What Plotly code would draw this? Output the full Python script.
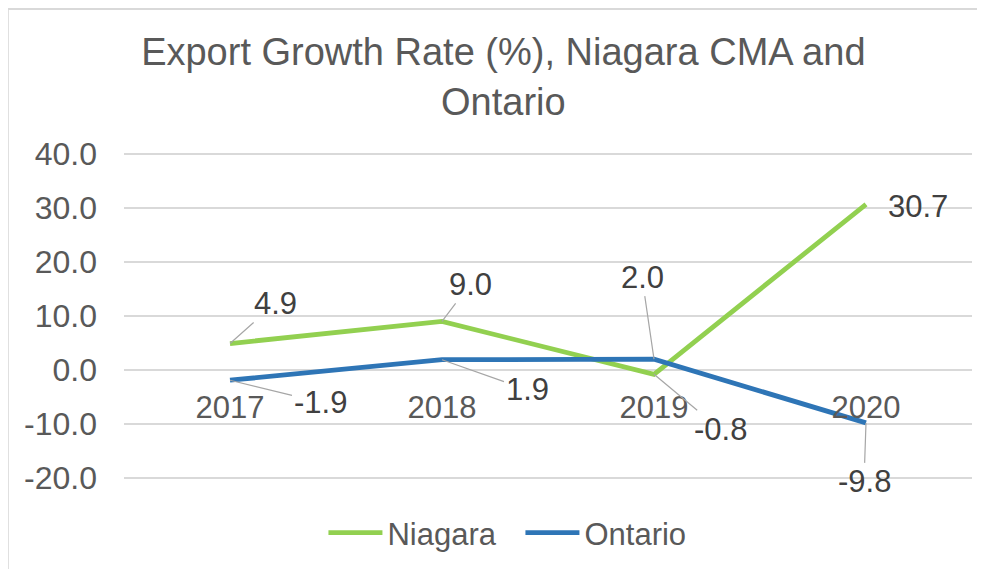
import plotly.graph_objects as go

years = ["2017", "2018", "2019", "2020"]
niagara = [4.9, 9.0, -0.8, 30.7]
ontario = [-1.9, 1.9, 2.0, -9.8]
y_ticks = [-20, -10, 0, 10, 20, 30, 40]

# label offsets (pixels) for data labels with leader lines
niagara_off = [(45, -40), (28, -37), (66, 55), (52, 2)]
niagara_leader = [True, True, True, False]
ontario_off = [(90, 22), (85, 30), (-12, -82), (-2, 59)]
ontario_leader = [True, True, True, True]

GREEN = "#92d050"
BLUE = "#2e75b6"
TXT = "#595959"
LBL = "#404040"
GRID = "#d9d9d9"
FONT = "Liberation Sans, Arial, sans-serif"

fig = go.Figure()
fig.add_trace(go.Scatter(x=years, y=niagara, name="Niagara", mode="lines",
                         line=dict(color=GREEN, width=4.8)))
fig.add_trace(go.Scatter(x=years, y=ontario, name="Ontario", mode="lines",
                         line=dict(color=BLUE, width=4.8)))

for vals, offs, leads in [(niagara, niagara_off, niagara_leader),
                          (ontario, ontario_off, ontario_leader)]:
    for i, (v, (dx, dy), lead) in enumerate(zip(vals, offs, leads)):
        fig.add_annotation(
            x=i, y=v, xref="x", yref="y", text=f"{v:.1f}", showarrow=True,
            arrowhead=0, arrowwidth=1.2,
            arrowcolor="#a6a6a6" if lead else "rgba(255,255,255,0)",
            ax=dx, ay=dy, standoff=0,
            font=dict(family=FONT, size=31, color=LBL))

YMIN, YMAX = -20.2, 40.2
fig.update_layout(
    width=977, height=561,
    margin=dict(l=116, r=13, t=145, b=90, autoexpand=False),
    paper_bgcolor="white", plot_bgcolor="white",
    title=dict(text="Export Growth Rate (%), Niagara CMA and<br>Ontario",
               x=0.507, xanchor="center", y=0.898, yanchor="middle",
               font=dict(family=FONT, size=38, color=TXT)),
    xaxis=dict(type="category", range=[-0.5, 3.5], showgrid=False,
               showline=False, zeroline=False, anchor="free",
               position=(0 - YMIN) / (YMAX - YMIN),
               ticks="", ticklabelstandoff=16,
               tickfont=dict(family=FONT, size=31, color=TXT)),
    yaxis=dict(range=[YMIN, YMAX], tickvals=y_ticks, ticktext=[f"{t:.1f}" for t in y_ticks],
               showgrid=True, gridcolor=GRID, gridwidth=1.5, zeroline=False,
               showline=False, ticks="", ticklabelstandoff=26,
               tickfont=dict(family=FONT, size=32, color=TXT), domain=[0, 1]),
    legend=dict(orientation="h", x=0.4675, xanchor="center",
                yref="container", y=0.0642, yanchor="middle",
                font=dict(family=FONT, size=31, color=TXT), itemwidth=54,
                entrywidth=128, bgcolor="rgba(0,0,0,0)"),
    shapes=[
        dict(type="line", xref="paper", yref="paper", x0=-0.137, x1=1.1, y0=1.442, y1=1.442,
             line=dict(color=GRID, width=2)),
        dict(type="line", xref="paper", yref="paper", x0=-0.137, x1=-0.137, y0=-0.4, y1=1.442,
             line=dict(color=GRID, width=2)),
    ],
    showlegend=True,
)

fig.write_html("out.html")
